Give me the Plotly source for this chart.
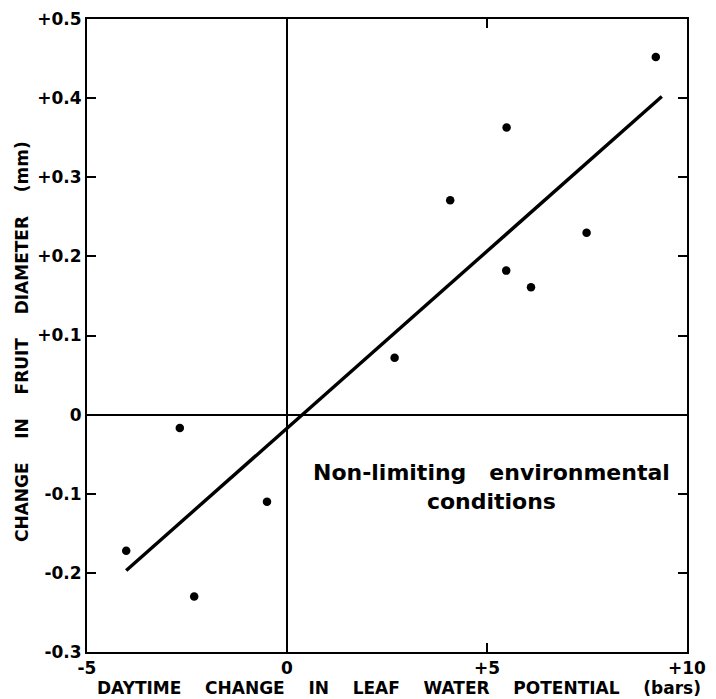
import plotly.graph_objects as go

# Data
leaf_potential_change = [-4.02, -2.68, -2.32, -0.50, 2.69, 4.08, 5.48, 5.49, 6.10, 7.49, 9.22]
fruit_diameter_change = [-0.172, -0.017, -0.230, -0.110, 0.072, 0.271, 0.182, 0.363, 0.161, 0.230, 0.452]

fit_x = [-4.02, 9.37]
fit_y = [-0.197, 0.402]

x_tickvals = [-5, 0, 5, 10]
x_ticktext = ["-5", "0", "+5", "+10"]
y_tickvals = [-0.3, -0.2, -0.1, 0, 0.1, 0.2, 0.3, 0.4, 0.5]
y_ticktext = ["-0.3", "-0.2", "-0.1", "0", "+0.1", "+0.2", "+0.3", "+0.4", "+0.5"]

FONT = "DejaVu Sans"
SP = "&nbsp;" * 3
SP4 = "&nbsp;" * 4

fig = go.Figure()
fig.add_trace(go.Scatter(x=fit_x, y=fit_y, mode="lines",
                         line=dict(color="black", width=3.4), showlegend=False))
fig.add_trace(go.Scatter(x=leaf_potential_change, y=fruit_diameter_change, mode="markers",
                         marker=dict(color="black", size=8.5), showlegend=False))

axis_common = dict(showline=True, linecolor="black", linewidth=2, mirror="ticks",
                   ticks="inside", ticklen=9, tickwidth=2, tickcolor="black",
                   showgrid=False, zeroline=True, zerolinecolor="black", zerolinewidth=2,
                   automargin=False, ticklabeloverflow="allow",
                   tickfont=dict(family=FONT, size=17, color="black", weight="bold"))

fig.update_xaxes(range=[-5, 10], tickvals=x_tickvals, ticktext=x_ticktext, **axis_common)
fig.update_yaxes(range=[-0.3, 0.5], tickvals=y_tickvals, ticktext=y_ticktext, **axis_common)

fig.add_annotation(x=5.1, y=-0.092, xref="x", yref="y",
                   text="Non-limiting" + SP + "environmental<br>conditions",
                   showarrow=False, align="center",
                   font=dict(family=FONT, size=22, color="black", weight="bold"))

fig.add_annotation(x=0.52, y=-0.057, xref="paper", yref="paper", yanchor="middle",
                   text=SP4.join(["DAYTIME", "CHANGE", "IN", "LEAF", "WATER", "POTENTIAL", "(bars)"]),
                   showarrow=False,
                   font=dict(family=FONT, size=17, color="black", weight="bold"))

fig.add_annotation(x=-0.108, y=0.49, xref="paper", yref="paper", xanchor="center", yanchor="middle",
                   text=SP4.join(["CHANGE", "IN", "FRUIT", "DIAMETER", "(mm)"]),
                   showarrow=False, textangle=-90,
                   font=dict(family=FONT, size=17, color="black", weight="bold"))

# The page body adds an 8px margin, so the figure is sized to fit the 716x699 window.
fig.update_layout(width=708, height=691,
                  margin=dict(l=79, r=29, t=11, b=47),
                  plot_bgcolor="white", paper_bgcolor="white")

fig.write_html("out.html")
